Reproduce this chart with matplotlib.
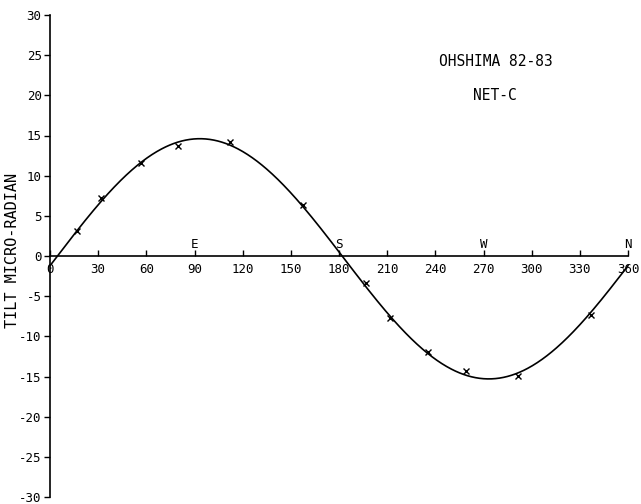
import numpy as np
import matplotlib
matplotlib.use("Agg")
import matplotlib.pyplot as plt

# Observed tilt vs azimuth (degrees, micro-radian)
azimuth_deg = [17, 32, 56.5, 79.7, 112.4, 157.3, 197.1, 211.8, 235.4, 258.8, 291.5, 337]
tilt_urad = [3.1, 7.2, 11.6, 13.7, 14.2, 6.4, -3.4, -7.7, -12.0, -14.3, -14.9, -7.3]

# Fitted sinusoid parameters (amplitude, phase in degrees, offset)
fit_amplitude = 14.95
fit_phase_deg = 3.3
fit_offset = -0.35

x_ticks = [0, 30, 60, 90, 120, 150, 180, 210, 240, 270, 300, 330, 360]
y_ticks = [-30, -25, -20, -15, -10, -5, 0, 5, 10, 15, 20, 25, 30]
directions = ["E", "S", "W", "N"]
direction_deg = [90, 180, 270, 360]

font = "DejaVu Sans Mono"
fs = 9

fig = plt.figure(figsize=(6.41, 5.04), dpi=100)
ax = fig.add_axes([50/641, 7/504, 578/641, 482/504])
ax.set_xlim(0, 360)
ax.set_ylim(-30, 30)

theta = np.linspace(0, 360, 721)
curve = fit_amplitude * np.sin(np.radians(theta - fit_phase_deg)) + fit_offset
ax.plot(theta, curve, color="black", lw=1.2, clip_on=False)
ax.plot(azimuth_deg, tilt_urad, ls="none", marker="x", ms=5, mew=1.0, color="black")

for s in ["top", "right"]:
    ax.spines[s].set_visible(False)
ax.spines["bottom"].set_position(("data", 0))
ax.spines["left"].set_position(("data", 0))
for s in ["bottom", "left"]:
    ax.spines[s].set_linewidth(1.2)

ax.set_xticks(x_ticks)
ax.set_xticklabels([str(v) for v in x_ticks], family=font, fontsize=fs)
ax.set_yticks(y_ticks)
ax.set_yticklabels([str(v) for v in y_ticks], family=font, fontsize=fs)
ax.tick_params(axis="x", direction="in", length=4, width=1, pad=5)
ax.tick_params(axis="y", direction="out", length=4, width=1, pad=2)

for lab, d in zip(directions, direction_deg):
    ax.text(d, 0.6, lab, family=font, fontsize=fs, ha="center", va="bottom")

fig.text(13/641, 1 - 250/504, "TILT MICRO-RADIAN", family=font, fontsize=11,
         rotation=90, ha="center", va="center")

ax.text(278, 24.2, "OHSHIMA 82-83", family=font, fontsize=10.5, ha="center", va="center")
ax.text(277, 20.0, "NET-C", family=font, fontsize=10.5, ha="center", va="center")

fig.savefig("out.png", dpi=100, facecolor="white")
